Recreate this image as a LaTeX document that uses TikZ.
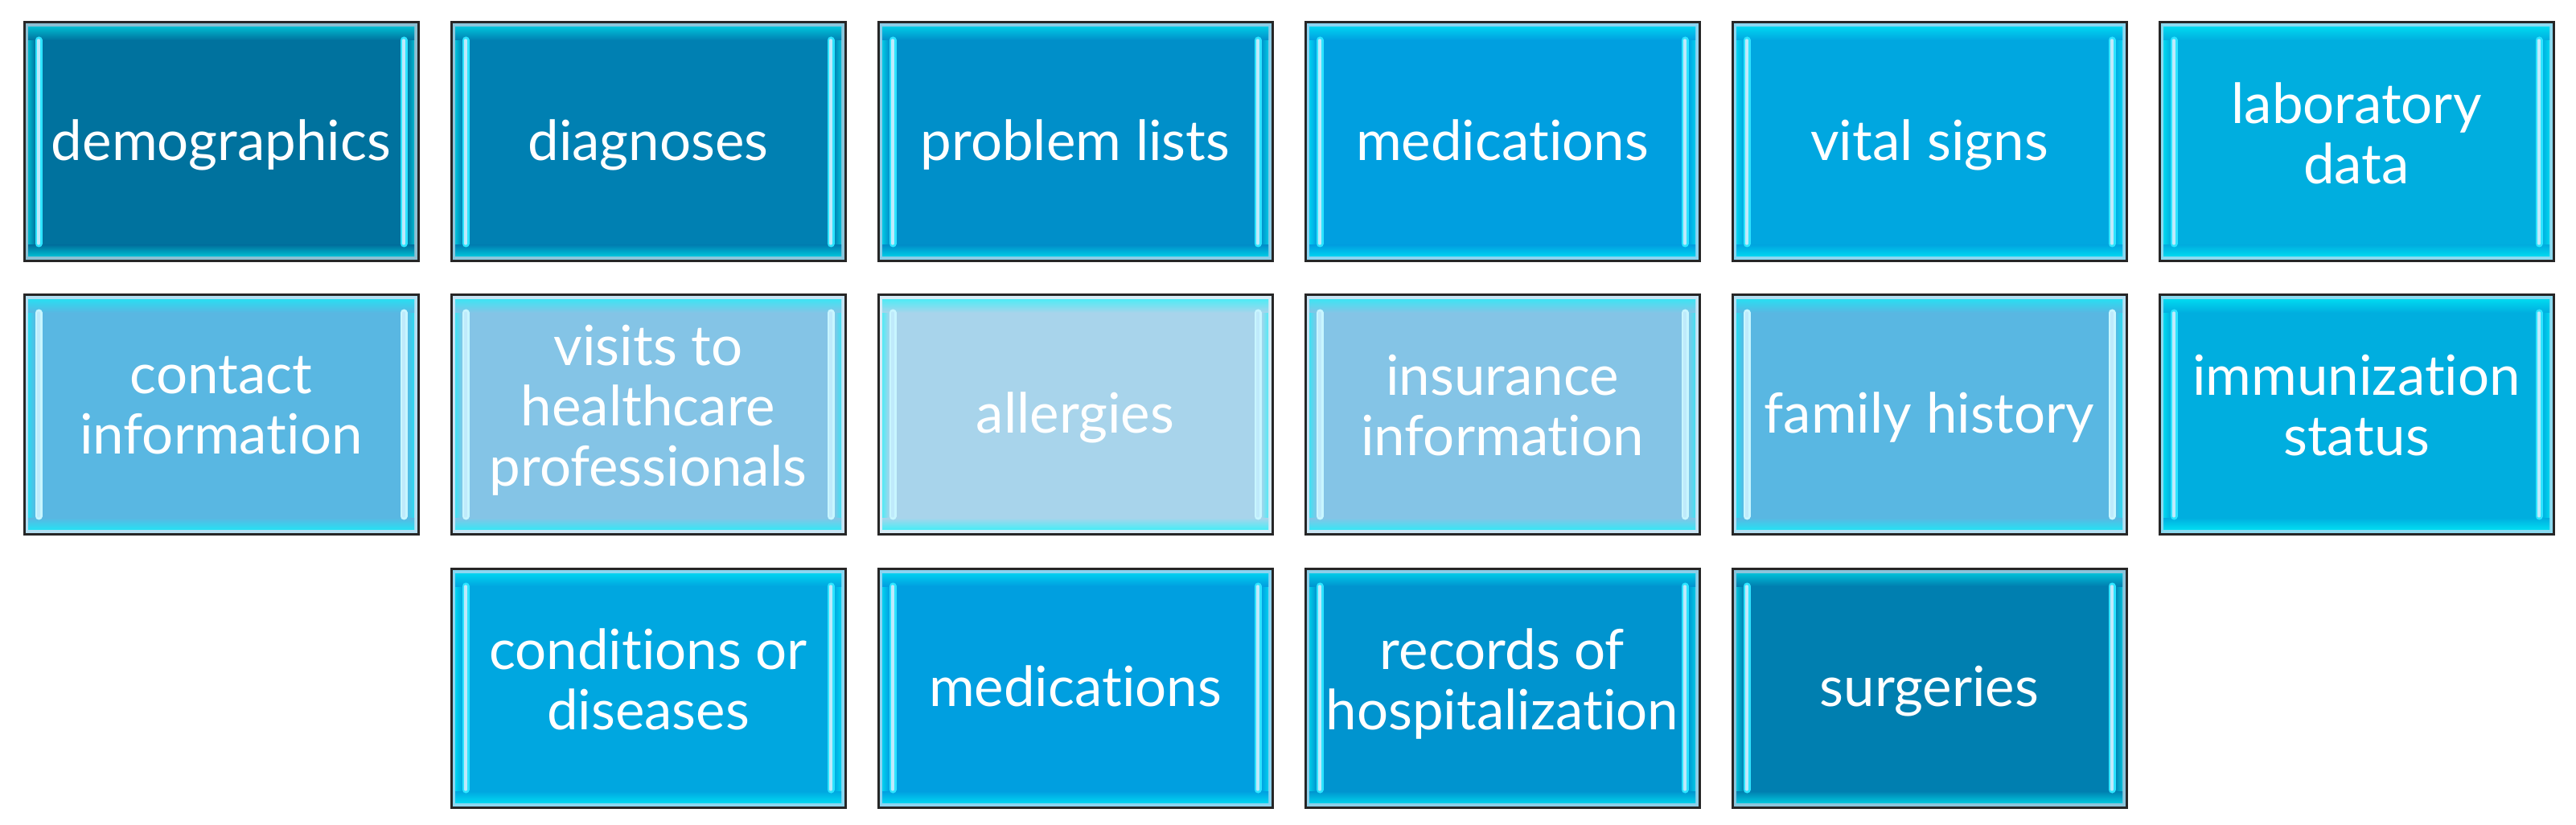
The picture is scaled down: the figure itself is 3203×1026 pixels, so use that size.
\documentclass[tikz,border=0pt]{standalone}
\usepackage{fontspec}
\setmainfont{Lato}[Ligatures={NoCommon,NoRequired,NoContextual}]
\definecolor{cA}{HTML}{00729E}
\definecolor{cB}{HTML}{0080B2}
\definecolor{cC}{HTML}{008FC9}
\definecolor{cD}{HTML}{009FE0}
\definecolor{cE}{HTML}{00A7E0}
\definecolor{cF}{HTML}{00AEDF}
\definecolor{cG}{HTML}{59B7E2}
\definecolor{cH}{HTML}{84C4E6}
\definecolor{cI}{HTML}{A8D4EB}
\definecolor{cJ}{HTML}{0094CF}
\definecolor{cK}{HTML}{007FB0}
\definecolor{stripeA}{HTML}{2EE4FF}
\definecolor{stripeB}{HTML}{C8F6FF}
\tikzset{
  tile/.style 2 args={rectangle, draw=black!85, line width=1.5pt, fill=#1,
    minimum width=245pt, minimum height=148.5pt, inner sep=0pt,
    text=white, align=center, font=\fontsize{34.5}{37.5}\selectfont,
    execute at begin node={\rule{0pt}{34pt}}, execute at end node=\strut,
    path picture={
      \coordinate (pnw) at (path picture bounding box.north west);
      \coordinate (pne) at (path picture bounding box.north east);
      \coordinate (psw) at (path picture bounding box.south west);
      \coordinate (pse) at (path picture bounding box.south east);
      \fill[#1!45!white] (psw) rectangle (pne);
      \fill[#1] ([shift={(2.5pt,-3pt)}]pnw) rectangle ([shift={(-2.5pt,3pt)}]pse);
      \shade[left color=#1!50!cyan, right color=#1] ([shift={(2.5pt,-3pt)}]pnw) rectangle ([shift={(7pt,3pt)}]psw);
      \shade[right color=#1!50!cyan, left color=#1] ([shift={(-7pt,-3pt)}]pne) rectangle ([shift={(-2.5pt,3pt)}]pse);
      \shade[top color=#1!50!cyan, bottom color=#1] ([shift={(2.5pt,-3pt)}]pnw) rectangle ([shift={(-2.5pt,-11pt)}]pne);
      \shade[bottom color=#1!45!cyan, top color=#1] ([shift={(2.5pt,10pt)}]psw) rectangle ([shift={(-2.5pt,3pt)}]pse);
      \draw[line width=4.5pt, line cap=round, #2] ([shift={(9pt,-11pt)}]pnw) -- ([shift={(9pt,11pt)}]psw);
      \draw[line width=4.5pt, line cap=round, #2] ([shift={(-9pt,-11pt)}]pne) -- ([shift={(-9pt,11pt)}]pse);
      \draw[line width=1.6pt, line cap=round, white!75!cyan] ([shift={(9pt,-11pt)}]pnw) -- ([shift={(9pt,11pt)}]psw);
      \draw[line width=1.6pt, line cap=round, white!75!cyan] ([shift={(-9pt,-11pt)}]pne) -- ([shift={(-9pt,11pt)}]pse);
    }}
}
\begin{document}
\begin{tikzpicture}[x=0.5pt,y=-0.5pt]
\useasboundingbox (0,0) rectangle (3203,1026);
% row 1
\node[tile={cA}{stripeA}] (demo) at (275,176.5) {demographics};
\node[tile={cB}{stripeA}] (diag) at (806,176.5) {diagnoses};
\node[tile={cC}{stripeA}] (prob) at (1337,176.5) {problem lists};
\node[tile={cD}{stripeA}] (medA) at (1868,176.5) {medications};
\node[tile={cE}{stripeA}] (vital) at (2399,176.5) {vital signs};
\node[tile={cF}{stripeA}] (lab) at (2930,176.5) {laboratory\\data};
% row 2
\node[tile={cG}{stripeB}] (contact) at (275,515.5) {contact\\information};
\node[tile={cH}{stripeB}] (visits) at (806,515.5) {visits to\\healthcare\\professionals};
\node[tile={cI}{stripeB}] (allerg) at (1337,515.5) {allergies};
\node[tile={cH}{stripeB}] (insur) at (1868,515.5) {insurance\\information};
\node[tile={cG}{stripeB}] (family) at (2399,515.5) {family history};
\node[tile={cF}{stripeA}] (immun) at (2930,515.5) {immunization\\status};
% row 3
\node[tile={cE}{stripeA}] (cond) at (806,855.5) {conditions or\\diseases};
\node[tile={cD}{stripeA}] (medB) at (1337,855.5) {medications};
\node[tile={cJ}{stripeA}] (hosp) at (1868,855.5) {records of\\hospitalization};
\node[tile={cK}{stripeA}] (surg) at (2399,855.5) {surgeries};
\end{tikzpicture}
\end{document}
